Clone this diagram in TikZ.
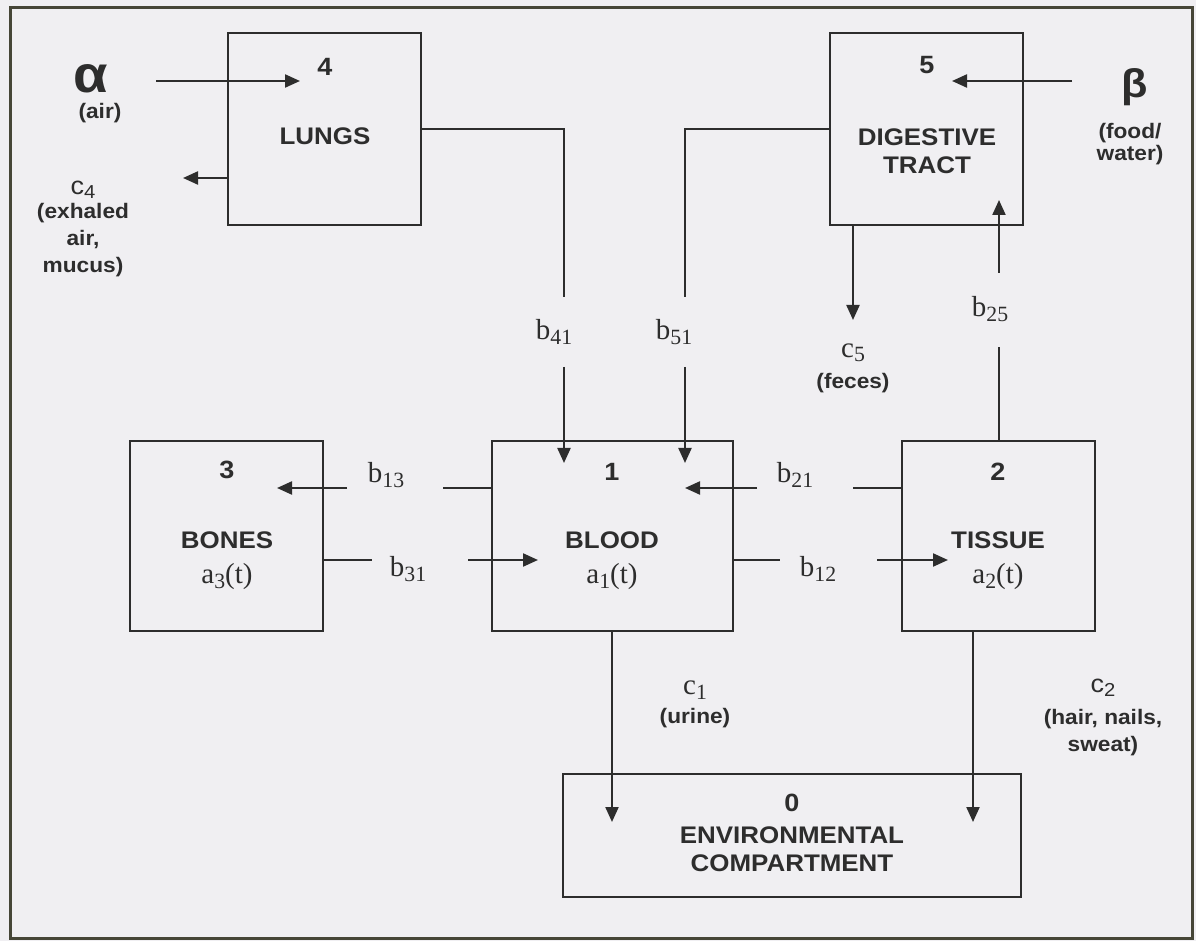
\documentclass[tikz,border=0pt]{standalone}
\usepackage{fontspec}
\usepackage{graphicx}
\setmainfont{Liberation Serif}
\newfontfamily\hsans{Liberation Sans}[FakeStretch=1.08]
\usetikzlibrary{arrows.meta}
\definecolor{bg}{RGB}{240,239,242}
\definecolor{ink}{RGB}{45,45,45}
\definecolor{framec}{RGB}{70,70,55}
\newcommand\lsub[1]{\raisebox{-0.15em}{\scalebox{0.75}{#1}}}
\begin{document}
\begin{tikzpicture}[x=0.5pt,y=-0.5pt,
  box/.style={draw=ink, line width=1pt, inner sep=0pt},
  arr/.style={draw=ink, line width=1.1pt, -{Triangle[length=7.5pt,width=6.5pt]}},
  ln/.style={draw=ink, line width=1pt},
  title/.style={text=ink, font=\hsans\bfseries\fontsize{12}{14}\selectfont, align=center, inner sep=0pt},
  num/.style={text=ink, font=\hsans\bfseries\fontsize{12.5}{14}\selectfont, inner sep=0pt},
  note/.style={text=ink, font=\hsans\bfseries\fontsize{10.5}{13.5}\selectfont, align=center, inner sep=0pt},
  rate/.style={text=ink, font=\fontsize{14.5}{17}\selectfont, inner sep=0pt},
  csans/.style={text=ink, font=\hsans\fontsize{12.5}{14}\selectfont, inner sep=0pt},
  greek/.style={text=ink, font=\hsans\bfseries\fontsize{26}{28}\selectfont, inner sep=0pt}
  ]
\fill[bg] (0,0) rectangle (1196,941);
\useasboundingbox (0,0) rectangle (1196,941);
\draw[framec, line width=1.5pt] (10,8) rectangle (1192,938);

% compartments
\node[box, minimum width=96.5pt, minimum height=96pt] (lungs) at (324.5,129) {};
\node[box, minimum width=96.5pt, minimum height=96pt] (digest) at (926.5,129) {};
\node[box, minimum width=96.5pt, minimum height=95pt] (bones) at (226.5,536) {};
\node[box, minimum width=120.5pt, minimum height=95pt] (blood) at (612.5,536) {};
\node[box, minimum width=96.5pt, minimum height=95pt] (tissue) at (998.5,536) {};
\node[box, minimum width=229pt, minimum height=61.5pt] (env) at (792,835.5) {};

% box texts
\node[num] (n4) at (325,67) {4};
\node[title] (tl) at (325,136) {LUNGS};
\node[num] (n5) at (927,65) {5};
\node[title] (td) at (927,151) {DIGESTIVE\\TRACT};
\node[num] (n3) at (227,470) {3};
\node[title] (tb) at (227,540) {BONES};
\node[rate] (a3) at (227,577) {a\lsub{3}(t)};
\node[num] (n1) at (612,472) {1};
\node[title] (tbl) at (612,540) {BLOOD};
\node[rate] (a1) at (612,577) {a\lsub{1}(t)};
\node[num] (n2) at (998,472) {2};
\node[title] (tt) at (998,540) {TISSUE};
\node[rate] (a2) at (998,577) {a\lsub{2}(t)};
\node[num] (n0) at (792,803) {0};
\node[title] (te) at (792,849) {ENVIRONMENTAL\\COMPARTMENT};

% inputs
\node[greek] (alpha) at (91,79) {α};
\node[note] (air) at (100,113) {(air)};
\coordinate (aS) at (156,81);
\coordinate (aE) at (300,81);
\draw[arr] (aS) -- (aE);

\node[greek, font=\hsans\bfseries\fontsize{20}{22}\selectfont] (beta) at (1135,87) {β};
\node[note, font=\hsans\bfseries\fontsize{10.5}{11}\selectfont] (food) at (1130,144) {(food/\\water)};
\coordinate (bS) at (1072,81);
\coordinate (bE) at (952,81);
\draw[arr] (bS) -- (bE);

% c4
\coordinate (c4E) at (183,178);
\draw[arr] (lungs.west |- c4E) -- (c4E);
\node[csans] (c4) at (83,190) {c\lsub{4}};
\node[note] (c4t) at (83,240) {(exhaled\\air,\\mucus)};

% lungs -> blood
\coordinate (k41) at (564,297);
\coordinate (k41b) at (564,367);
\coordinate (t41) at (564,463);
\draw[ln] (lungs.east) -| (k41);
\draw[arr] (k41b) -- (t41);
\node[rate] (b41) at (554,332) {b\lsub{41}};

% digestive -> blood
\coordinate (k51) at (685,297);
\coordinate (k51b) at (685,367);
\coordinate (t51) at (685,463);
\draw[ln] (digest.west) -| (k51);
\draw[arr] (k51b) -- (t51);
\node[rate] (b51) at (674,332) {b\lsub{51}};

% c5
\coordinate (c5E) at (853,320);
\draw[arr] (digest.south -| c5E) -- (c5E);
\node[rate] (c5) at (853,353) {c\lsub{5}};
\node[note] (feces) at (853,383) {(feces)};

% tissue -> digestive
\coordinate (k25a) at (999,347);
\coordinate (k25b) at (999,273);
\coordinate (t25) at (999,200);
\draw[ln] (tissue.north -| k25a) -- (k25a);
\draw[arr] (k25b) -- (t25);
\node[rate] (b25) at (990,309) {b\lsub{25}};

% blood -> bones
\coordinate (k13) at (443,488);
\coordinate (s13) at (347,488);
\coordinate (t13) at (277,488);
\draw[ln] (blood.west |- k13) -- (k13);
\draw[arr] (s13) -- (t13);
\node[rate] (b13) at (386,475) {b\lsub{13}};

% bones -> blood
\coordinate (k31) at (372,560);
\coordinate (s31) at (468,560);
\coordinate (t31) at (538,560);
\draw[ln] (bones.east |- k31) -- (k31);
\draw[arr] (s31) -- (t31);
\node[rate] (b31) at (408,569) {b\lsub{31}};

% tissue -> blood
\coordinate (k21) at (853,488);
\coordinate (s21) at (757,488);
\coordinate (t21) at (685,488);
\draw[ln] (tissue.west |- k21) -- (k21);
\draw[arr] (s21) -- (t21);
\node[rate] (b21) at (795,475) {b\lsub{21}};

% blood -> tissue
\coordinate (k12) at (780,560);
\coordinate (s12) at (877,560);
\coordinate (t12) at (948,560);
\draw[ln] (blood.east |- k12) -- (k12);
\draw[arr] (s12) -- (t12);
\node[rate] (b12) at (818,569) {b\lsub{12}};

% outputs to environment
\coordinate (t1) at (612,822);
\draw[arr] (blood.south -| t1) -- (t1);
\node[rate] (c1) at (695,690) {c\lsub{1}};
\node[note] (urine) at (695,718) {(urine)};

\coordinate (t2) at (973,822);
\draw[arr] (tissue.south -| t2) -- (t2);
\node[csans] (c2) at (1103,688) {c\lsub{2}};
\node[note] (hair) at (1103,733) {(hair, nails,\\sweat)};
\end{tikzpicture}
\end{document}
